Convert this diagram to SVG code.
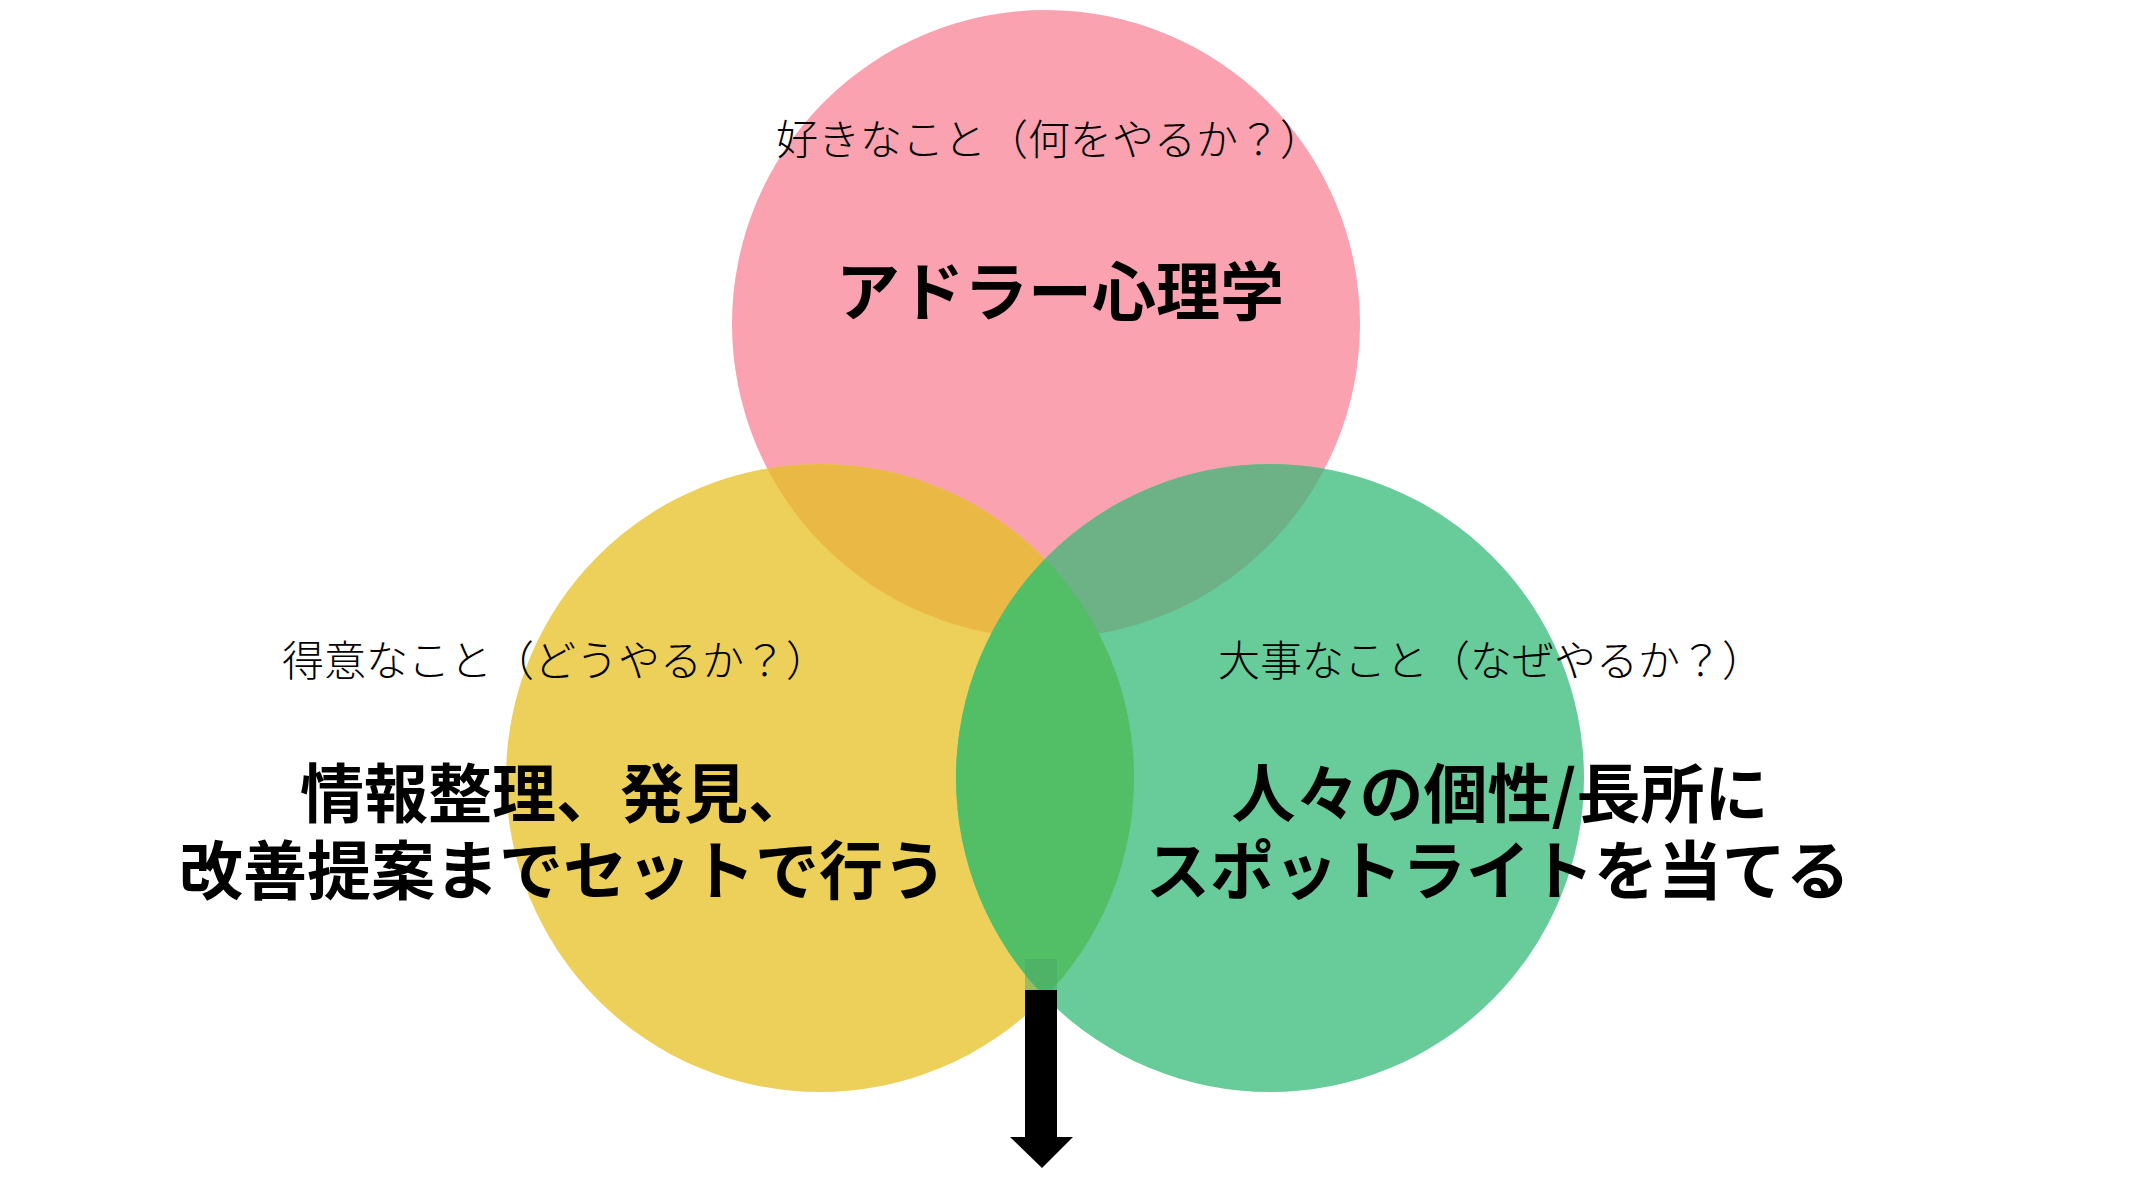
<svg xmlns="http://www.w3.org/2000/svg" width="2136" height="1194" viewBox="0 0 2136 1194">
<style>
.s{font-family:"Noto Sans CJK JP",sans-serif;font-size:42px;font-weight:300;fill:#000;text-anchor:middle}
.b{font-family:"Noto Sans CJK JP",sans-serif;font-size:64px;font-weight:700;fill:#000;text-anchor:middle}
</style>
<defs>
<clipPath id="cp"><circle cx="1046" cy="324" r="314"/></clipPath>
<clipPath id="cy"><circle cx="820" cy="778" r="314"/></clipPath>
</defs>
<rect width="2136" height="1194" fill="#fff"/>
<g id="like"><circle cx="1046" cy="324" r="314" fill="#FAA2B0"/></g>
<g id="good"><circle cx="820" cy="778" r="314" fill="#EDD05A"/></g>
<g id="value"><circle cx="1270" cy="778" r="314" fill="#68CB9A"/></g>
<g id="overlaps">
<circle cx="820" cy="778" r="314" fill="#EAB845" clip-path="url(#cp)"/>
<circle cx="1270" cy="778" r="314" fill="#6DB287" clip-path="url(#cp)"/>
<circle cx="1270" cy="778" r="314" fill="#52BE65" clip-path="url(#cy)"/>
</g>
<g id="connectors">
<polygon points="1025,990 1057,990 1057,1137 1073,1137 1042,1168 1010,1137 1025,1137" fill="#000"/>
<rect x="1025" y="959" width="32" height="31" fill="#4aa86a" opacity="0.5"/>
</g>
<text class="s" x="1049" y="155">好きなこと（何をやるか？）</text>
<text class="b" x="1060" y="315">アドラー心理学</text>
<text class="s" x="555" y="676">得意なこと（どうやるか？）</text>
<text class="b" x="556" y="817">情報整理、発見、</text>
<text class="b" x="563" y="894">改善提案までセットで行う</text>
<text class="s" x="1491" y="676">大事なこと（なぜやるか？）</text>
<text class="b" x="1500" y="817">人々の個性/長所に</text>
<text class="b" x="1498" y="894">スポットライトを当てる</text>
</svg>
